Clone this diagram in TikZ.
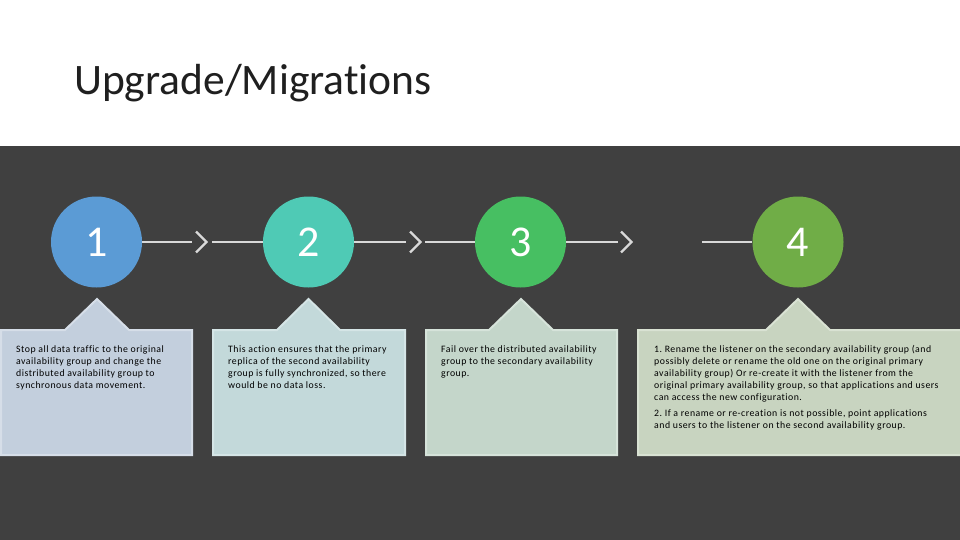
\documentclass[tikz,border=0pt]{standalone}
\usepackage{fontspec}
\setmainfont{Carlito}[Ligatures={NoCommon}]
\newfontfamily\descfont{Carlito}[Ligatures={NoCommon},LetterSpace=5]
\frenchspacing
\definecolor{bgdark}{HTML}{404040}
\definecolor{cone}{HTML}{5B9BD5}
\definecolor{ctwo}{HTML}{4FCAB5}
\definecolor{cthree}{HTML}{47BF62}
\definecolor{cfour}{HTML}{70AD47}
\definecolor{fone}{HTML}{C3CFDD}
\definecolor{btwoone}{HTML}{D6DEE8}
\definecolor{ftwo}{HTML}{C3D9DA}
\definecolor{btwo}{HTML}{D5E5E6}
\definecolor{fthree}{HTML}{C4D6CA}
\definecolor{bthree}{HTML}{D6E3DA}
\definecolor{ffour}{HTML}{C8D4C0}
\definecolor{bfour}{HTML}{D9E2D3}
\definecolor{linec}{HTML}{D9D9D9}
\tikzset{
  stepcircle/.style={circle, minimum size=91pt, inner sep=0pt, text=white,
    font=\fontsize{44}{44}\selectfont},
  conn/.style={draw=linec, line width=1.6pt},
  chev/.style={draw=linec, line width=2.2pt, line cap=butt, line join=miter},
  calloutbox/.style={line width=2pt},
  desc/.style={anchor=north west, align=left, inner sep=0pt, text=black,
    font=\descfont\fontsize{9.8}{12}\selectfont}
}
\begin{document}
\begin{tikzpicture}[x=1pt,y=-1pt]
\useasboundingbox (0,0) rectangle (960,540);
\fill[white] (0,0) rectangle (960,146);
\fill[bgdark] (0,146) rectangle (960,540);
\node[anchor=base west, inner sep=0pt, font=\fontsize{43.5}{44}\selectfont, text=black!88] (title) at (74,95) {Upgrade/Migrations};

% circles
\node[stepcircle, fill=cone] (c1) at (96.5,242) {1};
\node[stepcircle, fill=ctwo] (c2) at (308.5,242) {2};
\node[stepcircle, fill=cthree] (c3) at (520.5,242) {3};
\node[stepcircle, fill=cfour] (c4) at (798,242) {4};

% connectors
\coordinate (o1) at (192,242); \coordinate (i2) at (212,242);
\coordinate (o2) at (406,242); \coordinate (i3) at (425,242);
\coordinate (o3) at (618,242); \coordinate (i4) at (702,242);
\coordinate (h1) at (196,242); \coordinate (h2) at (410,242); \coordinate (h3) at (621,242);
\draw[conn] (c1.east) -- (o1);
\draw[conn] (i2) -- (c2.west);
\draw[conn] (c2.east) -- (o2);
\draw[conn] (i3) -- (c3.west);
\draw[conn] (c3.east) -- (o3);
\draw[conn] (i4) -- (c4.west);
\foreach \h in {h1,h2,h3}{
  \draw[chev] ([yshift=-10.5pt]\h) -- ([xshift=10.5pt]\h) -- ([yshift=10.5pt]\h);
}

% callout boxes
\filldraw[calloutbox, fill=fone, draw=btwoone]
  (1,330) -- (65,330) -- (97,299) -- (129,330) -- (192,330) -- (192,455) -- (1,455) -- cycle;
\filldraw[calloutbox, fill=ftwo, draw=btwo]
  (213,330) -- (277,330) -- (308.5,299) -- (340,330) -- (405,330) -- (405,455) -- (213,455) -- cycle;
\filldraw[calloutbox, fill=fthree, draw=bthree]
  (426,330) -- (489,330) -- (521,299) -- (553,330) -- (617,330) -- (617,455) -- (426,455) -- cycle;
\filldraw[calloutbox, fill=ffour, draw=bfour]
  (638,330) -- (766,330) -- (798,299) -- (830,330) -- (962,330) -- (962,455) -- (638,455) -- cycle;

% texts
\node[desc] (t1) at (16,345.5) {Stop all data traffic to the original\\availability group and change the\\distributed availability group to\\synchronous data movement.};
\node[desc] (t2) at (228,345.5) {This action ensures that the primary\\replica of the second availability\\group is fully synchronized, so there\\would be no data loss.};
\node[desc] (t3) at (441,345.5) {Fail over the distributed availability\\group to the secondary availability\\group.};
\node[desc] (t4) at (654,345.5) {1. Rename the listener on the secondary availability group (and\\possibly delete or rename the old one on the original primary\\availability group) Or re-create it with the listener from the\\original primary availability group, so that applications and users\\can access the new configuration.\\[4pt]2. If a rename or re-creation is not possible, point applications\\and users to the listener on the second availability group.};
\end{tikzpicture}
\end{document}
